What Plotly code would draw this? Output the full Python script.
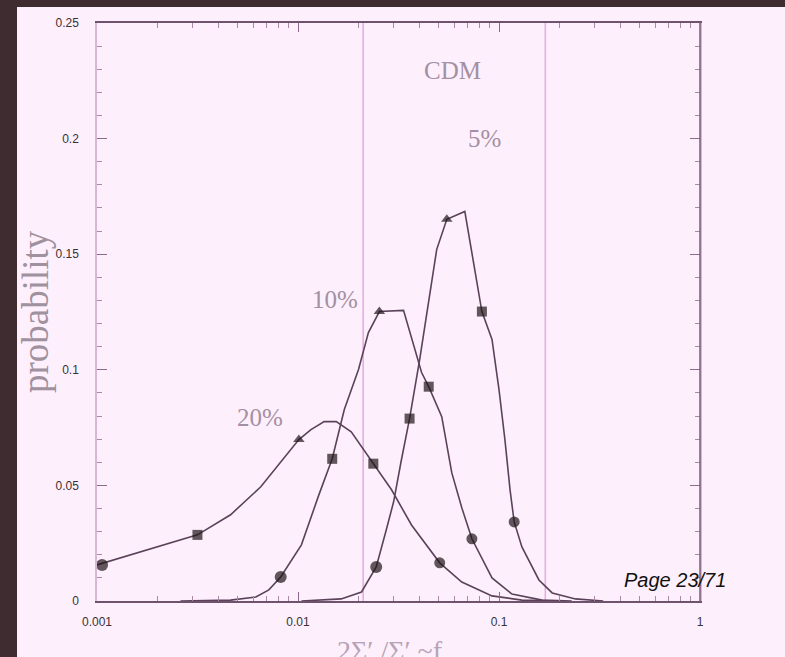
import plotly.graph_objects as go

# ---- data ----
x20 = [0.001, 0.00316, 0.00462, 0.00653, 0.0101, 0.0116, 0.0135, 0.0155, 0.0184, 0.0237,
       0.0292, 0.0367, 0.0507, 0.0653, 0.0923, 0.130, 0.2]
y20 = [0.0156, 0.0286, 0.0373, 0.0494, 0.0698, 0.0741, 0.0776, 0.0776, 0.0732, 0.0594,
       0.0481, 0.0329, 0.0165, 0.0082, 0.0022, 0.0004, 0.0]

x10 = [0.0026, 0.00462, 0.00617, 0.00716, 0.0082, 0.0104, 0.0127, 0.0148, 0.0170, 0.0200,
       0.0224, 0.0254, 0.0335, 0.0412, 0.0447, 0.0519, 0.0582, 0.0653, 0.0733, 0.0923,
       0.116, 0.164, 0.23]
y10 = [0.0, 0.0004, 0.0017, 0.0048, 0.0104, 0.0243, 0.0459, 0.0615, 0.0828, 0.1001,
       0.1161, 0.1252, 0.1257, 0.0988, 0.0927, 0.0797, 0.0555, 0.0403, 0.0269, 0.0100,
       0.0030, 0.0004, 0.0]

x5 = [0.0104, 0.0164, 0.0207, 0.0245, 0.0275, 0.0299, 0.0327, 0.0359, 0.0403, 0.0447,
      0.0490, 0.055, 0.0676, 0.0822, 0.0923, 0.100, 0.107, 0.1135, 0.119, 0.130,
      0.158, 0.184, 0.24, 0.33]
y5 = [0.0, 0.0009, 0.0039, 0.0147, 0.0308, 0.0429, 0.0611, 0.0789, 0.1044, 0.1304,
      0.1521, 0.1651, 0.1685, 0.1252, 0.1131, 0.0914, 0.0698, 0.0481, 0.0342, 0.0234,
      0.0091, 0.0035, 0.0009, 0.0]

# marker points
mx20 = [0.00106, 0.00316, 0.0101, 0.0237, 0.0507]
my20 = [0.0156, 0.0286, 0.0698, 0.0594, 0.0165]
mx10 = [0.0082, 0.0148, 0.0254, 0.0447, 0.0733]
my10 = [0.0104, 0.0615, 0.1252, 0.0927, 0.0269]
mx5 = [0.0245, 0.0359, 0.055, 0.0822, 0.119]
my5 = [0.0147, 0.0789, 0.1651, 0.1252, 0.0342]
msym = ["circle", "square", "triangle-up", "square", "circle"]

# CDM band edges
band_x = [0.0211, 0.170]

x_ticks = [0.001, 0.01, 0.1, 1]
x_ticklabels = ["0.001", "0.01", "0.1", "1"]
y_ticks = [0, 0.05, 0.1, 0.15, 0.2, 0.25]
y_ticklabels = ["0", "0.05", "0.1", "0.15", "0.2", "0.25"]

LINE = "#5b4259"
MARK = "#1f1418"
PINK = "#fdf0fc"
DARK = "#3e2c31"

fig = go.Figure()

for bx in band_x:
    fig.add_trace(go.Scatter(x=[bx, bx], y=[0, 0.25], mode="lines",
                             line=dict(color="#e6aee3", width=1.6),
                             hoverinfo="skip", showlegend=False))

for xs, ys in [(x20, y20), (x10, y10), (x5, y5)]:
    fig.add_trace(go.Scatter(x=xs, y=ys, mode="lines",
                             line=dict(color=LINE, width=1.6),
                             hoverinfo="skip", showlegend=False))

for mx, my in [(mx20, my20), (mx10, my10), (mx5, my5)]:
    fig.add_trace(go.Scatter(x=mx, y=my, mode="markers",
                             marker=dict(symbol=msym, color=MARK, size=[12, 10, 10, 10, 11],
                                         line=dict(width=0)),
                             hoverinfo="skip", showlegend=False))

L, R, T, B = 97, 85, 23, 56
W, H = 785, 657
pw, ph = W - L - R, H - T - B

def px_x(px):
    return (px - L) / pw

def px_y(py):
    return (H - B - py) / ph

label_font = dict(family="Liberation Serif, serif", size=25, color="#a48fa3")

def ann(text, x, y, font, **kw):
    d = dict(text=text, x=px_x(x), y=px_y(y), xref="paper", yref="paper", showarrow=False,
             xanchor="center", yanchor="middle", font=font)
    d.update(kw)
    return d

annotations = [
    ann("CDM", 452, 70, label_font),
    ann("5%", 484, 138, label_font),
    ann("10%", 335, 299, label_font),
    ann("20%", 260, 418, label_font),
    ann("probability", 35, 312, dict(family="Liberation Serif, serif", size=37, color="#a0919f"),
        textangle=-90),
    ann("2Σ′ /Σ′ ~f", 390, 650, dict(family="Liberation Serif, serif", size=28, color="#b7a3b6")),
    ann("<i>Page 23/71</i>", 675, 580, dict(family="Liberation Sans, Arial, sans-serif", size=20,
                                               color="#111111")),
]

shapes = [
    # dark photo border: top band and left band
    dict(type="rect", xref="paper", yref="paper", x0=px_x(-2), x1=px_x(W + 2), y0=px_y(7), y1=px_y(-2),
         fillcolor=DARK, line=dict(width=0), layer="above"),
    dict(type="rect", xref="paper", yref="paper", x0=px_x(-2), x1=px_x(17), y0=px_y(H + 2), y1=px_y(-2),
         fillcolor=DARK, line=dict(width=0), layer="above"),
    # darker right frame line
    dict(type="line", xref="paper", yref="paper", x0=1, x1=1, y0=0, y1=1,
         line=dict(color="#7a5b77", width=1.5), layer="above"),
]

tick_font = dict(family="Liberation Sans, Arial", size=12, color="#3a3036")

fig.update_layout(
    width=W, height=H, autosize=False,
    margin=dict(l=L, r=R, t=T, b=B, pad=0),
    paper_bgcolor=PINK, plot_bgcolor=PINK,
    showlegend=False,
    annotations=annotations,
    shapes=shapes,
    xaxis=dict(type="log", range=[-3, 0], tickvals=x_ticks, ticktext=x_ticklabels,
               showgrid=False, zeroline=False, showline=True, linecolor="#6f526d", linewidth=1.5,
               mirror="ticks", ticks="inside", ticklen=9, tickcolor="#8a6c88",
               tickfont=tick_font, ticklabelstandoff=9,
               minor=dict(ticks="inside", ticklen=5, tickcolor="#a98aa6", dtick="D1")),
    yaxis=dict(range=[0, 0.25], tickvals=y_ticks, ticktext=y_ticklabels,
               showgrid=False, zeroline=False, showline=True, linecolor="#d7b6d6", linewidth=1.5,
               mirror="ticks", ticks="inside", ticklen=10, tickcolor="#8a6c88",
               tickfont=tick_font, ticklabelstandoff=14,
               minor=dict(ticks="inside", ticklen=5, tickcolor="#a98aa6", dtick=0.01)),
)

fig.write_html("out.html", config={"displayModeBar": False},
               post_script="document.body.style.margin='0';")
